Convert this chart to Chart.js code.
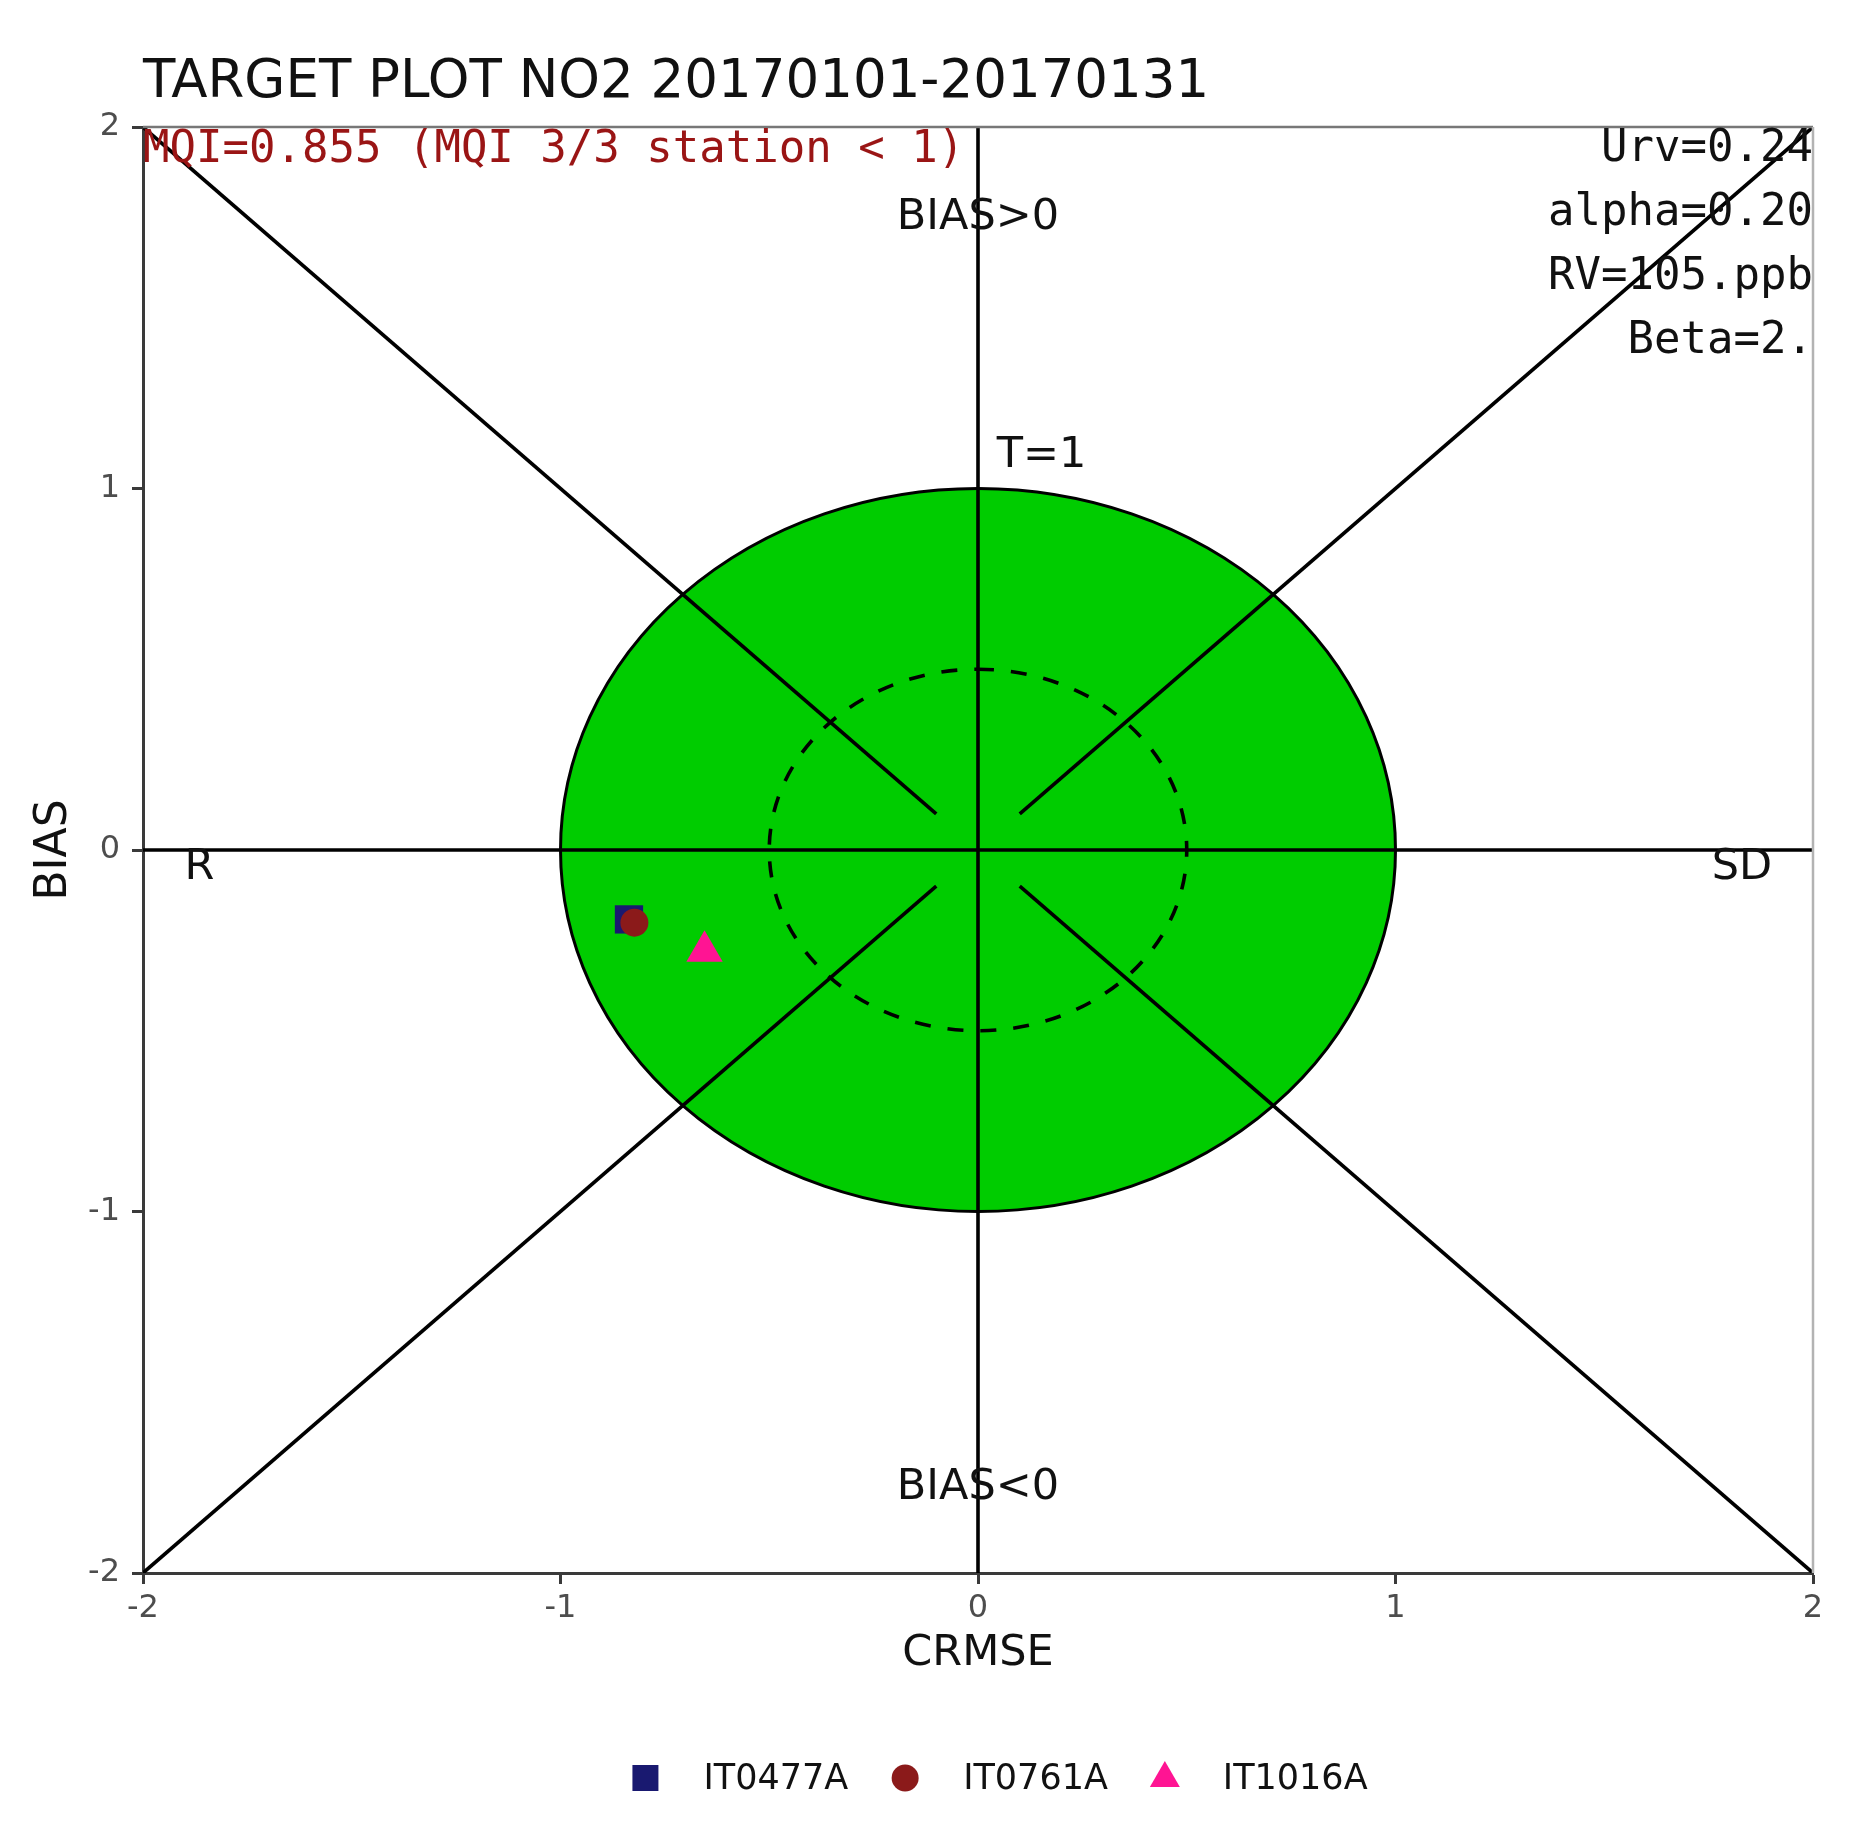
<!DOCTYPE html>
<html>
<head>
<meta charset="utf-8">
<script src="https://cdn.jsdelivr.net/npm/chart.js@4.4.1/dist/chart.umd.min.js"></script>
<style>
  html, body { margin: 0; padding: 0; background: #fff; }
  canvas { display: block; }
</style>
</head>
<body>
<canvas id="targetChart" width="1866" height="1827"></canvas>
<script>
const stations = ['IT0477A', 'IT0761A', 'IT1016A'];
const crmseValues = [-0.836, -0.823, -0.655];
const biasValues = [-0.192, -0.201, -0.280];
const stationColors = ['#191970', '#8b1a1a', '#ff1493'];
const stationShapes = ['rect', 'circle', 'triangle'];
const stationRadius = [20, 14, 21];
const tickValues = [-2, -1, 0, 1, 2];
const guideSegments = [
    [[-2, 2], [-0.1, 0.1]],
    [[2, 2], [0.1, 0.1]],
    [[-2, -2], [-0.1, -0.1]],
    [[2, -2], [0.1, -0.1]],
    [[-2, 0], [2, 0]],
    [[0, -2], [0, 2]]
];
const targetRadius = 1;
const innerRadius = 0.5;
const titleText = 'TARGET PLOT NO2 20170101-20170131';
const mqiText = 'MQI=0.855 (MQI 3/3 station < 1)';
const paramLines = ['Urv=0.24', 'alpha=0.20', 'RV=105.ppb', 'Beta=2.'];
const plotLabels = [
    { text: 'BIAS>0', x: 0, y: 1.75, align: 'center' },
    { text: 'BIAS<0', x: 0, y: -1.765, align: 'center' },
    { text: 'T=1', x: 0.045, y: 1.09, align: 'left' },
    { text: 'R', x: -1.865, y: -0.05, align: 'center' },
    { text: 'SD', x: 1.83, y: -0.05, align: 'center' }
];

const SANS = '"DejaVu Sans", sans-serif';
const MONO = '"DejaVu Sans Mono", monospace';

document.addEventListener('DOMContentLoaded', function () {
    const ctx = document.getElementById('targetChart').getContext('2d');

    const datasets = [];
    guideSegments.forEach(function (seg) {
        datasets.push({
            type: 'line',
            label: '',
            data: seg.map(function (p) { return { x: p[0], y: p[1] }; }),
            borderColor: '#000',
            borderWidth: 3.6,
            pointRadius: 0,
            fill: false,
            showLine: true,
            order: 10
        });
    });
    stations.forEach(function (name, i) {
        datasets.push({
            type: 'scatter',
            label: name,
            data: [{ x: crmseValues[i], y: biasValues[i] }],
            pointStyle: stationShapes[i],
            pointRadius: stationRadius[i],
            backgroundColor: stationColors[i],
            borderColor: stationColors[i],
            borderWidth: 0,
            order: 5 - i
        });
    });

    // green target circle + dashed half circle, under the lines
    const targetPlugin = {
        id: 'targetArea',
        beforeDatasetsDraw: function (chart) {
            const xs = chart.scales.x, ys = chart.scales.y;
            const c = chart.ctx;
            const cx = xs.getPixelForValue(0), cy = ys.getPixelForValue(0);
            c.save();
            c.beginPath();
            c.ellipse(cx, cy,
                xs.getPixelForValue(targetRadius) - cx,
                cy - ys.getPixelForValue(targetRadius), 0, 0, Math.PI * 2);
            c.fillStyle = '#00cc00';
            c.fill();
            c.lineWidth = 3;
            c.strokeStyle = '#000';
            c.stroke();

            c.beginPath();
            c.ellipse(cx, cy,
                xs.getPixelForValue(innerRadius) - cx,
                cy - ys.getPixelForValue(innerRadius), 0, -Math.PI / 2, Math.PI * 1.5);
            c.setLineDash([16, 17]);
            c.lineWidth = 3.6;
            c.stroke();
            c.restore();
        },
        afterDatasetsDraw: function (chart) {
            const xs = chart.scales.x, ys = chart.scales.y;
            const a = chart.chartArea;
            const c = chart.ctx;
            c.save();
            // top and right frame
            c.lineWidth = 2.5;
            c.strokeStyle = '#777';
            c.beginPath();
            c.moveTo(a.left, a.top);
            c.lineTo(a.right, a.top);
            c.stroke();
            c.strokeStyle = '#b3b3b3';
            c.beginPath();
            c.moveTo(a.right, a.top);
            c.lineTo(a.right, a.bottom);
            c.stroke();

            c.fillStyle = '#111';
            c.font = '43px ' + SANS;
            c.textBaseline = 'middle';
            plotLabels.forEach(function (l) {
                c.textAlign = l.align;
                c.fillText(l.text, xs.getPixelForValue(l.x), ys.getPixelForValue(l.y));
            });

            c.font = '44px ' + MONO;
            c.textBaseline = 'alphabetic';
            c.fillStyle = '#9a1515';
            c.textAlign = 'left';
            c.fillText(mqiText, a.left, a.top + 35);

            c.fillStyle = '#111';
            c.textAlign = 'right';
            paramLines.forEach(function (t, i) {
                c.fillText(t, a.right, a.top + 34 + i * 64);
            });
            c.restore();
        },
        afterDraw: function (chart) {
            const a = chart.chartArea;
            const c = chart.ctx;
            c.save();
            c.fillStyle = '#111';
            c.font = '53px ' + SANS;
            c.textAlign = 'left';
            c.textBaseline = 'alphabetic';
            c.fillText(titleText, a.left, 97);

            // legend
            c.font = '35px ' + SANS;
            c.textBaseline = 'middle';
            const gapSym = 71, gapItem = 44;
            let total = 0;
            const widths = stations.map(function (s) { return c.measureText(s).width; });
            widths.forEach(function (w, i) {
                total += gapSym + w + (i < widths.length - 1 ? gapItem : 0);
            });
            let x = (a.left + a.right) / 2 + 22 - total / 2 + 13;
            const y = 1778;
            stations.forEach(function (name, i) {
                c.fillStyle = stationColors[i];
                c.beginPath();
                if (stationShapes[i] === 'rect') {
                    c.rect(x - 13, y - 13, 26, 26);
                } else if (stationShapes[i] === 'circle') {
                    c.arc(x, y, 13.5, 0, Math.PI * 2);
                } else {
                    c.moveTo(x, y - 17);
                    c.lineTo(x + 15, y + 9);
                    c.lineTo(x - 15, y + 9);
                    c.closePath();
                }
                c.fill();
                c.fillStyle = '#111';
                c.textAlign = 'left';
                c.fillText(name, x + gapSym - 13, y + 2);
                x += gapSym + widths[i] + gapItem;
            });
            c.restore();
        }
    };

    const axisCommon = {
        type: 'linear',
        min: -2,
        max: 2,
        afterBuildTicks: function (scale) {
            scale.ticks = tickValues.map(function (v) { return { value: v }; });
        },
        grid: {
            drawOnChartArea: false,
            drawTicks: true,
            tickLength: 11,
            tickColor: '#3a3a3a',
            tickWidth: 3
        },
        border: { display: true, color: '#3a3a3a', width: 3 }
    };

    new Chart(ctx, {
        type: 'scatter',
        data: { datasets: datasets },
        options: {
            responsive: false,
            animation: false,
            events: [],
            layout: { padding: { top: 127, right: 53, left: 0, bottom: 0 } },
            plugins: {
                legend: { display: false },
                tooltip: { enabled: false },
                title: { display: false }
            },
            scales: {
                x: Object.assign({}, axisCommon, {
                    position: 'bottom',
                    afterFit: function (scale) { scale.height = 254; },
                    ticks: { color: '#4d4d4d', font: { family: SANS, size: 32 }, padding: 5, maxRotation: 0 },
                    title: {
                        display: true,
                        text: 'CRMSE',
                        color: '#111',
                        font: { family: SANS, size: 43 },
                        padding: { top: 0, bottom: 147 }
                    }
                }),
                y: Object.assign({}, axisCommon, {
                    position: 'left',
                    afterFit: function (scale) { scale.width = 143; },
                    ticks: { color: '#4d4d4d', font: { family: SANS, size: 32 }, padding: 12 },
                    title: {
                        display: true,
                        text: 'BIAS',
                        color: '#111',
                        font: { family: SANS, size: 44 },
                        padding: { top: 28, bottom: 0 }
                    }
                })
            }
        },
        plugins: [targetPlugin]
    });
});
</script>
</body>
</html>
